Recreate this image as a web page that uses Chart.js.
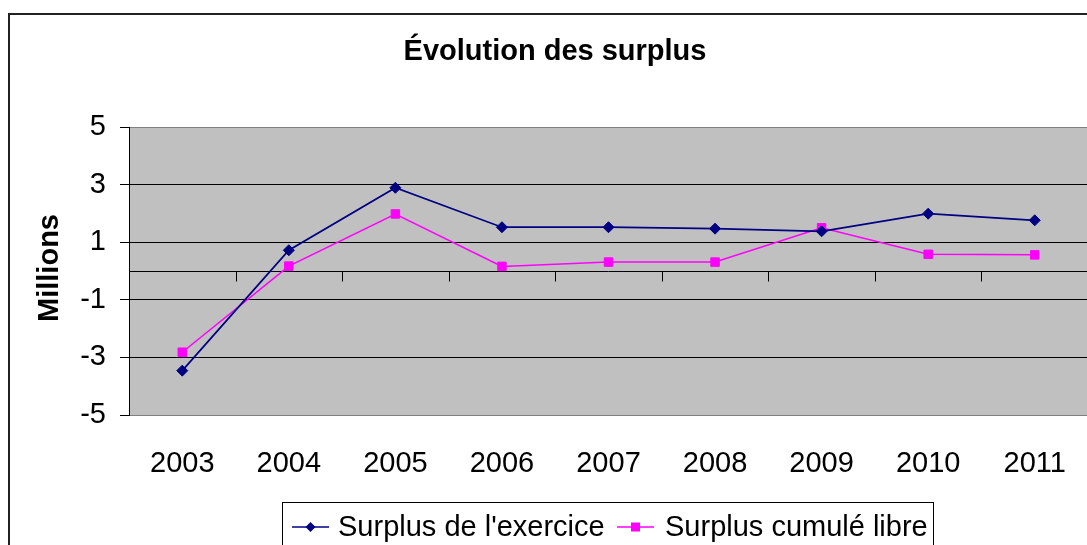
<!DOCTYPE html>
<html>
<head>
<meta charset="utf-8">
<script src="https://cdn.jsdelivr.net/npm/chart.js@4/dist/chart.umd.min.js"></script>
<style>
  html, body { margin: 0; padding: 0; background: #fff; overflow: hidden; width: 1087px; height: 545px; }
  #wrap { width: 1100px; height: 545px; }
</style>
</head>
<body>
<div id="wrap"><canvas id="surplusChart" width="1100" height="545"></canvas></div>
<script>
const annees = ['2003', '2004', '2005', '2006', '2007', '2008', '2009', '2010', '2011'];
const surplusExercice = [-3.46, 0.72, 2.89, 1.52, 1.52, 1.47, 1.38, 1.99, 1.76];
const surplusCumule = [-2.82, 0.17, 1.98, 0.16, 0.31, 0.31, 1.50, 0.58, 0.56];
const yMin = -5;
const yMax = 5;
const yStep = 2;

const titre = 'Évolution des surplus';
const titreAxe = 'Millions';
const police = "'Liberation Sans', Arial, sans-serif";

const couleurExercice = '#000080';
const couleurCumule = '#FF00FF';

// fond gris + cadre du graphique
const fondPlugin = {
  id: 'fond',
  beforeDraw(chart) {
    const ctx = chart.ctx;
    const a = chart.chartArea;
    ctx.save();
    ctx.fillStyle = '#fff';
    ctx.fillRect(0, 0, chart.width, chart.height);
    ctx.strokeStyle = '#222';
    ctx.lineWidth = 2;
    ctx.strokeRect(9, 14, 1300, 700);
    ctx.fillStyle = '#C0C0C0';
    ctx.fillRect(a.left, a.top, a.right - a.left, a.bottom - a.top);
    ctx.restore();
  },
  // axe des catégories qui croise à 0
  beforeDatasetsDraw(chart) {
    const ctx = chart.ctx;
    const a = chart.chartArea;
    const x = chart.scales.x;
    const y0 = Math.round(chart.scales.y.getPixelForValue(0)) + 0.5;
    const pas = x.getPixelForValue(1) - x.getPixelForValue(0);
    ctx.save();
    ctx.strokeStyle = '#000';
    ctx.lineWidth = 1;
    ctx.beginPath();
    ctx.moveTo(a.left, y0);
    ctx.lineTo(a.right, y0);
    for (let i = 1; i <= annees.length; i++) {
      const xb = Math.round(x.getPixelForValue(i) - pas / 2) + 0.5;
      ctx.moveTo(xb, y0);
      ctx.lineTo(xb, y0 + 10);
    }
    ctx.stroke();
    ctx.restore();
  },
  afterDraw(chart) {
    const ctx = chart.ctx;
    ctx.save();
    ctx.fillStyle = '#000';
    ctx.textAlign = 'center';
    ctx.textBaseline = 'alphabetic';
    ctx.font = `bold 29px ${police}`;
    ctx.fillText(titre, 555, 60);

    ctx.translate(58, 268);
    ctx.rotate(-Math.PI / 2);
    ctx.fillText(titreAxe, 0, 0);
    ctx.restore();

    // légende
    ctx.save();
    ctx.strokeStyle = '#000';
    ctx.lineWidth = 1;
    ctx.strokeRect(282.5, 502.5, 651, 60);
    const yl = 527;
    const items = [
      { x: 292, texte: 'Surplus de l\'exercice', ds: chart.data.datasets[0], tx: 338 },
      { x: 617, texte: 'Surplus cumulé libre', ds: chart.data.datasets[1], tx: 665 }
    ];
    ctx.font = `29px ${police}`;
    ctx.textAlign = 'left';
    ctx.textBaseline = 'middle';
    for (const it of items) {
      ctx.strokeStyle = it.ds.borderColor;
      ctx.fillStyle = it.ds.borderColor;
      ctx.lineWidth = 1.5;
      ctx.beginPath();
      ctx.moveTo(it.x, yl);
      ctx.lineTo(it.x + 37, yl);
      ctx.stroke();
      const cx = it.x + 18.5;
      ctx.beginPath();
      if (it.ds.pointStyle === 'rectRot') {
        ctx.moveTo(cx, yl - 5);
        ctx.lineTo(cx + 5, yl);
        ctx.lineTo(cx, yl + 5);
        ctx.lineTo(cx - 5, yl);
        ctx.closePath();
      } else {
        ctx.rect(cx - 4.5, yl - 4.5, 9, 9);
      }
      ctx.fill();
      ctx.fillStyle = '#000';
      ctx.fillText(it.texte, it.tx, yl + 1);
    }
    ctx.restore();
  }
};

const ctx = document.getElementById('surplusChart').getContext('2d');
const chart = new Chart(ctx, {
  type: 'line',
  data: {
    labels: annees,
    datasets: [{
      label: 'Surplus de l\'exercice',
      data: surplusExercice,
      borderColor: couleurExercice,
      backgroundColor: couleurExercice,
      borderWidth: 1.75,
      pointStyle: 'rectRot',
      pointRadius: 5.5,
      pointBorderWidth: 1,
      tension: 0
    }, {
      label: 'Surplus cumulé libre',
      data: surplusCumule,
      borderColor: couleurCumule,
      backgroundColor: couleurCumule,
      borderWidth: 1.5,
      pointStyle: 'rect',
      pointRadius: 6,
      pointBorderWidth: 1,
      tension: 0
    }]
  },
  options: {
    responsive: false,
    animation: false,
    devicePixelRatio: 1,
    layout: { padding: { left: 0, top: 127, right: 12, bottom: 0 } },
    plugins: {
      legend: { display: false },
      title: { display: false },
      tooltip: { enabled: false }
    },
    scales: {
      x: {
        offset: true,
        grid: { display: false },
        border: { display: false },
        ticks: {
          color: '#000',
          font: { family: police, size: 29 },
          padding: 24,
          maxRotation: 0
        },
        afterFit(scale) { scale.height = 130; }
      },
      y: {
        min: yMin,
        max: yMax,
        ticks: {
          stepSize: yStep,
          color: '#000',
          font: { family: police, size: 29 },
          padding: 14
        },
        grid: {
          color: (c) => (c.tick && (c.tick.value === yMin || c.tick.value === yMax)) ? '#808080' : '#000',
          tickColor: '#000',
          tickLength: 9,
          lineWidth: 1
        },
        border: { display: true, color: '#000', width: 1 },
        afterFit(scale) { scale.width = 129; }
      }
    }
  },
  plugins: [fondPlugin]
});
</script>
</body>
</html>
